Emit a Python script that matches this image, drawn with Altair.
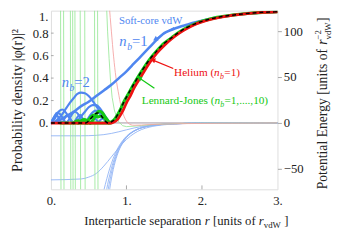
import altair as alt
import pandas as pd

# ---------------- probability densities (left axis) ----------------
soft1_r = [0.0, 0.1, 0.2, 0.3, 0.4, 0.5, 0.6, 0.7, 0.8, 0.9, 1.0, 1.1, 1.2, 1.3, 1.4, 1.5, 1.6, 1.7, 1.8, 1.9, 2.0, 2.2, 2.4, 2.7, 3.0]
soft1_v = [0.0, 0.02, 0.06, 0.10, 0.15, 0.19, 0.24, 0.29, 0.34, 0.40, 0.46, 0.53, 0.60, 0.67, 0.74, 0.80, 0.83, 0.855, 0.875, 0.895, 0.91, 0.94, 0.96, 0.978, 0.99]

soft2_r = [0.0, 0.05, 0.1, 0.15, 0.2, 0.25, 0.3, 0.35, 0.4, 0.45, 0.5, 0.55, 0.6, 0.65, 0.7, 0.75, 0.8]
soft2_v = [0.0, 0.01, 0.04, 0.08, 0.13, 0.18, 0.22, 0.26, 0.27, 0.265, 0.24, 0.2, 0.15, 0.1, 0.05, 0.015, 0.0]

soft3_r = [0.0, 0.05, 0.1, 0.15, 0.2, 0.25, 0.3, 0.35, 0.4, 0.45, 0.5, 0.55, 0.6, 0.65, 0.7, 0.75, 0.78]
soft3_v = [0.0, 0.04, 0.1, 0.12, 0.09, 0.04, 0.005, 0.02, 0.06, 0.1, 0.14, 0.16, 0.16, 0.13, 0.08, 0.03, 0.0]

soft4_r = [0.0, 0.04, 0.08, 0.12, 0.16, 0.2, 0.24, 0.28, 0.32, 0.36, 0.4, 0.44, 0.48, 0.52, 0.56, 0.6, 0.64, 0.68, 0.72, 0.76]
soft4_v = [0.0, 0.05, 0.09, 0.08, 0.04, 0.005, 0.03, 0.08, 0.1, 0.08, 0.03, 0.005, 0.03, 0.07, 0.1, 0.11, 0.09, 0.05, 0.02, 0.0]

soft5_r = [0.0, 0.03, 0.06, 0.09, 0.12, 0.15, 0.18, 0.21, 0.24, 0.27, 0.3, 0.33, 0.36, 0.39, 0.42, 0.45, 0.48, 0.51, 0.54, 0.57, 0.6, 0.63, 0.66, 0.69, 0.72, 0.75]
soft5_v = [0.0, 0.04, 0.07, 0.06, 0.02, 0.005, 0.04, 0.07, 0.06, 0.02, 0.005, 0.03, 0.06, 0.07, 0.04, 0.01, 0.02, 0.05, 0.07, 0.06, 0.03, 0.01, 0.03, 0.04, 0.02, 0.0]

sig_r = [0.76, 0.80, 0.84, 0.88, 0.92, 0.96, 1.0, 1.05, 1.1, 1.2, 1.3, 1.4, 1.5, 1.6, 1.7, 1.8, 1.9, 2.0, 2.2, 2.4, 2.6, 2.8, 3.0]
sig_v = [0.0, 0.01, 0.03, 0.07, 0.12, 0.18, 0.23, 0.29, 0.35, 0.46, 0.56, 0.64, 0.71, 0.76, 0.81, 0.85, 0.88, 0.905, 0.94, 0.96, 0.975, 0.985, 0.99]

lj_zero_r = [0.13, 0.3, 0.5, 0.7]
lj_zero_v = [0.0, 0.0, 0.0, 0.0]

ljA_r = [0.52, 0.56, 0.6, 0.64, 0.68, 0.72, 0.76, 0.79]
ljA_v = [0.0, 0.03, 0.08, 0.105, 0.09, 0.05, 0.015, 0.0]
ljB_r = [0.46, 0.5, 0.54, 0.58, 0.62, 0.66, 0.7, 0.74, 0.77]
ljB_v = [0.0, 0.03, 0.06, 0.07, 0.055, 0.06, 0.05, 0.02, 0.0]
ljC_r = [0.36, 0.4, 0.44, 0.48, 0.52]
ljC_v = [0.0, 0.02, 0.03, 0.02, 0.0]
ljD_r = [0.3, 0.33, 0.36, 0.4, 0.44, 0.48]
ljD_v = [0.0, 0.015, 0.02, 0.01, 0.02, 0.0]

he_r = [0.0, 0.8, 0.84, 0.88, 0.92, 0.96, 1.0, 1.05, 1.1, 1.2, 1.3, 1.4, 1.5, 1.6, 1.7, 1.8, 1.9, 2.0, 2.2, 2.4, 2.6, 2.8, 3.0]
he_v = [0.0, 0.0, 0.01, 0.03, 0.07, 0.12, 0.18, 0.24, 0.31, 0.42, 0.53, 0.62, 0.69, 0.75, 0.80, 0.84, 0.875, 0.90, 0.935, 0.958, 0.973, 0.984, 0.99]

blk_r = [0.0, 0.3, 0.46, 0.5, 0.54, 0.58, 0.62, 0.66, 0.70, 0.73]
blk_v = [0.0, 0.0, 0.0, 0.02, 0.05, 0.08, 0.09, 0.07, 0.035, 0.01]

# ---------------- potentials (right axis) ----------------
flat_r = [0.0, 0.4, 0.5, 0.6, 0.7, 0.8, 0.9, 1.0, 1.1, 1.2, 1.3, 1.4, 1.6, 1.8, 2.0, 2.5, 3.0]
flat1_v = [-14.0, -14.0, -13.85, -13.48, -12.72, -11.41, -9.57, -7.48, -5.49, -3.88, -2.68, -1.85, -0.89, -0.46, -0.25, -0.07, -0.02]
flat2_v = [-62.0, -61.0, -59.0, -55.0, -47.0, -37.0, -27.0, -18.0, -11.5, -7.2, -4.6, -3.0, -1.3, -0.6, -0.3, -0.08, -0.03]

steep_r = [0.7, 0.72, 0.74, 0.76, 0.78, 0.8, 0.85, 0.9, 0.95, 1.0, 1.1, 1.2, 1.3, 1.4, 1.6, 1.8, 2.0, 2.5, 3.0]
steep0_v = [-136, -114.9, -97.4, -83.0, -71.0, -61.0, -42.4, -30.1, -21.8, -16.0, -9.03, -5.36, -3.31, -2.12, -0.95, -0.47, -0.25, -0.066, -0.022]
steep1_v = [-108.4, -94.5, -82.4, -71.8, -62.7, -54.8, -39.3, -28.5, -20.9, -15.5, -8.88, -5.31, -3.29, -2.12, -0.95, -0.47, -0.25, -0.066, -0.022]
steep2_v = [-90.1, -80.3, -71.4, -63.3, -56.1, -49.7, -36.6, -27.1, -20.1, -15.1, -8.74, -5.25, -3.27, -2.11, -0.95, -0.47, -0.25, -0.066, -0.022]
steep3_r = [0.65, 0.7, 0.72, 0.74, 0.76, 0.78, 0.8, 0.85, 0.9, 0.95, 1.0, 1.1, 1.2, 1.3, 1.4, 1.6, 1.8, 2.0, 2.5, 3.0]
steep3_v = [-91.2, -73.5, -66.9, -60.6, -54.7, -49.2, -44.2, -33.5, -25.3, -19.2, -14.5, -8.55, -5.18, -3.25, -2.10, -0.94, -0.47, -0.25, -0.066, -0.022]

lj_wall_r = [0.13, 0.17, 0.26, 0.29, 0.32, 0.39, 0.45, 0.58, 0.62]
lj1_r = [0.735, 0.75, 0.77, 0.79, 0.81, 0.84, 0.87, 0.9, 0.95, 1.0, 1.1, 1.2, 1.4, 1.7, 2.0, 3.0]
lj1_v = [130, 100, 70, 45, 28, 14, 6, 1, -3, -4, -3.5, -2.8, -1.5, -0.6, -0.25, 0.0]

hepot_r = [0.77, 0.8, 0.83, 0.86, 0.9, 0.94, 0.98, 1.02, 1.06, 1.1, 1.2, 1.3, 1.5, 1.8, 2.2, 2.6, 3.0]
hepot_v = [130, 100, 72, 50, 30, 14, 5, 0, -2, -2.5, -2.3, -1.8, -1.2, -0.7, -0.35, -0.15, 0.0]

# ---------------- axis ticks & annotations ----------------
left_ticks = [0.2, 0.4, 0.6, 0.8]
bottom_ticks = [1, 2]

arrow_r0 = [1.63, 1.62, 1.37]
arrow_v0 = [0.85, 0.485, 0.31]
arrow_r1 = [1.38, 1.35, 1.17]
arrow_v1 = [0.745, 0.56, 0.40]
arrow_col = ["#4f86f0", "#ee1111", "#13c913"]
arrow_ang = [240, 288, 298]

# ---------------- helpers ----------------
FONT = "Liberation Serif, Times New Roman, Times, serif"
BLUE = "#4f86f0"
GREEN = "#13c913"
RED = "#ee1111"
AXC = "#a8a8a8"


def frame(rs, vs, name):
    return pd.DataFrame({"r": rs, "v": vs, "k": name})


xscale = alt.Scale(domain=[0, 3], nice=False, zero=False)
yd_scale = alt.Scale(domain=[-0.59, 1.0], nice=False, zero=False)
yp_scale = alt.Scale(domain=[-72.3, 122.3], nice=False, zero=False)

xaxis = alt.Axis(values=[0, 1, 2, 3], labelExpr="format(datum.value, 'd') + '.'", title=None,
                 grid=False, ticks=False, domain=False, labelFont=FONT, labelFontSize=13,
                 labelColor="#222", labelPadding=6, labelFlush=False)
yd_axis = alt.Axis(orient="left", values=[0, 0.2, 0.4, 0.6, 0.8, 1.0],
                   labelExpr="datum.value == 0 ? '0.' : (datum.value == 1 ? '1.' : format(datum.value, '.1f'))",
                   title=None, grid=False, ticks=False, domain=False, labelFont=FONT,
                   labelFontSize=13, labelColor="#222", labelPadding=3, labelFlush=True)
yp_axis = alt.Axis(orient="right", values=[-50, 0, 50, 100],
                   labelExpr="datum.value < 0 ? '\u2212' + format(-datum.value, 'd') : format(datum.value, 'd')",
                   title=None, grid=False, ticks=True, tickSize=4, tickColor=AXC, domain=False,
                   labelFont=FONT, labelFontSize=13, labelColor="#222", labelPadding=2, labelFlush=False)

X = alt.X("r:Q", scale=xscale, axis=xaxis)
X2 = alt.X2("r2:Q")
YD = alt.Y("v:Q", scale=yd_scale, axis=yd_axis)
YP = alt.Y("v:Q", scale=yp_scale, axis=yp_axis)


def lines(frames, color, width, yenc, dash=None, interp="monotone", cap="round"):
    data = pd.concat(frames, ignore_index=True)
    kw = dict(color=color, strokeWidth=width, clip=True, interpolate=interp, strokeCap=cap)
    if dash:
        kw["strokeDash"] = dash
    return alt.Chart(data).mark_line(**kw).encode(x=X, y=yenc, detail="k:N")


# ---------------- potential group ----------------
wall_frames = [frame([w - 0.003, w + 0.003], [135, -80], "w%d" % i) for i, w in enumerate(lj_wall_r)]
pot_blue = lines([frame(flat_r, flat1_v, "f1"), frame(flat_r, flat2_v, "f2"),
                  frame(steep_r, steep0_v, "s0"), frame(steep_r, steep1_v, "s1"),
                  frame(steep_r, steep2_v, "s2"), frame(steep3_r, steep3_v, "s3")],
                 "#8fb2f5", 0.9, YP)
pot_green = lines(wall_frames + [frame(lj1_r, lj1_v, "lj1")], "#9be89b", 0.9, YP, interp="linear")
pot_red = lines([frame(hepot_r, hepot_v, "he")], "#f5a3a3", 0.9, YP)
zero_rule = alt.Chart(pd.DataFrame({"v": [0.0]})).mark_rule(color="#8a7a8a", strokeWidth=0.8).encode(y=YP)
pot_group = alt.layer(zero_rule, pot_blue, pot_green, pot_red)

# ---------------- density group ----------------
lt = pd.DataFrame({"v": left_ticks, "r": [0.0] * len(left_ticks), "r2": [0.035] * len(left_ticks)})
left_tick_marks = alt.Chart(lt).mark_rule(color=AXC, strokeWidth=1).encode(x=X, x2=X2, y=YD)
bt = pd.DataFrame({"r": bottom_ticks, "v": [-0.59] * len(bottom_ticks), "v2": [-0.555] * len(bottom_ticks)})
bottom_tick_marks = alt.Chart(bt).mark_rule(color=AXC, strokeWidth=1).encode(x=X, y=YD, y2=alt.Y2("v2:Q"))

d_blue_bumps = lines([frame(soft2_r, soft2_v, "b2"), frame(soft3_r, soft3_v, "b3"),
                      frame(soft4_r, soft4_v, "b4"), frame(soft5_r, soft5_v, "b5")], BLUE, 2.2, YD)
d_blue1 = lines([frame(soft1_r, soft1_v, "b1")], BLUE, 2.6, YD)
d_green = lines([frame(lj_zero_r + sig_r, lj_zero_v + sig_v, "g0"), frame(ljA_r, ljA_v, "gA"),
                 frame(ljB_r, ljB_v, "gB"), frame(ljC_r, ljC_v, "gC"), frame(ljD_r, ljD_v, "gD")],
                GREEN, 3.2, YD)
d_red = lines([frame(he_r, he_v, "he")], RED, 2.8, YD)
d_black = lines([frame(blk_r + sig_r, blk_v + sig_v, "bk")], "#000000", 1.5, YD, dash=[4, 3], cap="butt")

arr = pd.DataFrame({"r": arrow_r0, "v": arrow_v0, "r2": arrow_r1, "v2": arrow_v1,
                    "c": arrow_col, "a": arrow_ang})
arrow_lines = alt.Chart(arr).mark_rule(strokeWidth=1.3).encode(
    x=X, y=YD, x2=X2, y2=alt.Y2("v2:Q"), color=alt.Color("c:N", scale=None))
arrow_heads = alt.Chart(arr).mark_point(shape="triangle-up", filled=True, size=30, opacity=1).encode(
    x=alt.X("r2:Q", scale=xscale, axis=xaxis), y=alt.Y("v2:Q", scale=yd_scale, axis=yd_axis),
    color=alt.Color("c:N", scale=None), angle=alt.Angle("a:Q", scale=None))


def label(r, v, text, color, size, dx=0, dy=0, style="normal", align="left", baseline="alphabetic"):
    return alt.Chart(pd.DataFrame({"r": [r], "v": [v]})).mark_text(
        text=text, color=color, font=FONT, fontSize=size, fontStyle=style, dx=dx, dy=dy,
        align=align, baseline=baseline).encode(x=X, y=YD)


labels = [
    label(1.32, 0.906, "Soft-core vdW", BLUE, 11, align="center", baseline="middle"),
    # n_b = 1
    label(0.906, 0.682, "n", BLUE, 15, style="italic"),
    label(0.906, 0.682, "b", BLUE, 10, dx=8, dy=4, style="italic"),
    label(0.906, 0.682, "=1", BLUE, 15, dx=13),
    # n_b = 2
    label(0.142, 0.322, "n", BLUE, 15, style="italic"),
    label(0.142, 0.322, "b", BLUE, 10, dx=8, dy=4, style="italic"),
    label(0.142, 0.322, "=2", BLUE, 15, dx=13),
    # Helium
    label(1.63, 0.416, "Helium (", RED, 11.5),
    label(1.63, 0.416, "n", RED, 11.5, dx=41, style="italic"),
    label(1.63, 0.416, "b", RED, 8, dx=47, dy=3, style="italic"),
    label(1.63, 0.416, "=1)", RED, 11.5, dx=51.5),
    # Lennard-Jones
    label(1.203, 0.167, "Lennard-Jones (", GREEN, 11.5),
    label(1.203, 0.167, "n", GREEN, 11.5, dx=74.4, style="italic"),
    label(1.203, 0.167, "b", GREEN, 8, dx=80.3, dy=3, style="italic"),
    label(1.203, 0.167, "=1,....,10)", GREEN, 11.5, dx=84.6),
]

dens_group = alt.layer(left_tick_marks, bottom_tick_marks, d_blue_bumps, d_blue1, d_green, d_red,
                       d_black, arrow_lines, arrow_heads, *labels)

# ---------------- axis titles (composed text) ----------------
one = pd.DataFrame({"a": [0]})


def ptext(x, y, text, size, angle=0, style="normal", align="left", baseline="alphabetic", color="#222"):
    kw = dict(text=text, font=FONT, fontSize=size, fontStyle=style, align=align,
              baseline=baseline, color=color)
    if angle:
        kw["angle"] = angle
    return alt.Chart(one).mark_text(**kw).encode(x=alt.value(x), y=alt.value(y))


titles = [
    ptext(-34, 92, "Probability density |\u03c6(r)|\u00b2", 14.5, angle=270, align="center", baseline="middle"),
    # right title, reading upward
    ptext(283, 183, "Potential Energy [units of", 14, angle=270),
    ptext(283, 35, "r", 14, angle=270, style="italic"),
    ptext(287, 29.5, "vdW", 9, angle=270),
    ptext(277, 29.5, "\u22122", 9, angle=270),
    ptext(283, 11.5, "]", 14, angle=270),
    # bottom title
    ptext(34, 220, "Interparticle separation", 13),
    ptext(157.5, 220, "r", 13, style="italic"),
    ptext(166, 220, "[units of", 13),
    ptext(212.8, 220, "r", 13, style="italic"),
    ptext(218, 223, "vdW", 9),
    ptext(239, 220, "]", 13),
]

chart = alt.layer(pot_group, dens_group, *titles).resolve_scale(y="independent").properties(
    width=232, height=183,
    autosize=alt.AutoSizeParams(type="none"),
    padding={"left": 44, "top": 0, "right": 62, "bottom": 42},
).configure_view(stroke=AXC, strokeWidth=1).configure(background="white")

chart.save("out.html", embed_options={"renderer": "svg", "actions": False})
